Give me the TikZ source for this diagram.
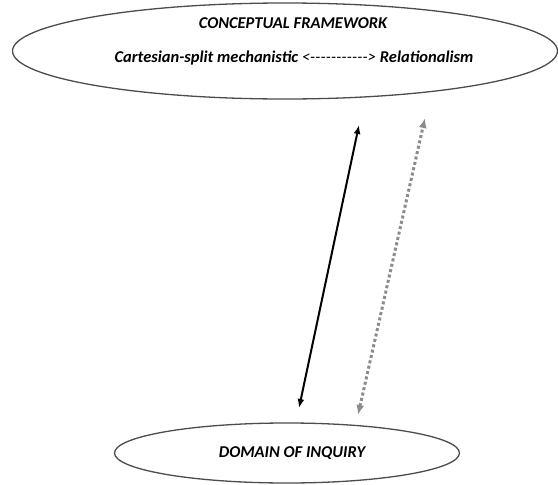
\documentclass[tikz,border=0pt]{standalone}
\usepackage{fontspec}
\setmainfont{Carlito}
\usetikzlibrary{shapes.geometric,arrows.meta}
\newcommand{\hy}{-\kern0.2pt}
\begin{document}
\begin{tikzpicture}[x=1pt,y=-1pt,
  oval/.style={ellipse, draw=black!70, line width=1.3pt, inner sep=0pt},
  lbl/.style={font=\bfseries\itshape\fontsize{16.5}{18}\selectfont, inner sep=0pt},
  solidarrow/.style={line width=2pt, {Latex[length=9pt,width=7pt]}-{Latex[length=9pt,width=7pt]}},
  dotarrow/.style={line width=3pt, black!45, dash pattern=on 3pt off 2.5pt, {Latex[length=10pt,width=8pt]}-{Latex[length=10pt,width=8pt]}}]
\useasboundingbox (0,0) rectangle (558,485);
\node[oval, minimum width=545pt, minimum height=96pt] (cf) at (285,51) {};
\node[lbl] (cft) at (293,23) {CONCEPTUAL FRAMEWORK};
\node[lbl] (cfs) at (294,58) {Cartesian-split mechanistic {\mdseries <\hy\hy\hy\hy\hy\hy\hy\hy\hy\hy\hy>} Relationalism};
\node[oval, minimum width=345pt, minimum height=60pt] (doi) at (287,453) {};
\node[lbl] (doit) at (292,453) {DOMAIN OF INQUIRY};
\coordinate (a1) at (299,408);
\coordinate (a2) at (359,125);
\coordinate (b1) at (358,415);
\coordinate (b2) at (425,118);
\draw[solidarrow] (a1) -- (a2);
\draw[dotarrow] (b1) -- (b2);
\end{tikzpicture}
\end{document}
